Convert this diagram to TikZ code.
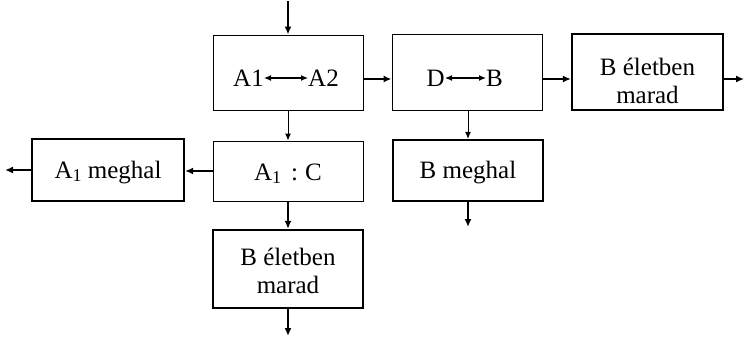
\documentclass[tikz,border=0pt]{standalone}
\usepackage{fontspec}
\setmainfont{Liberation Serif}
\usetikzlibrary{arrows.meta}
\newcommand{\subone}{\raisebox{-3pt}{\fontsize{18}{18}\selectfont 1}}
\begin{document}
\begin{tikzpicture}[x=1pt,y=-1pt,
  thinbox/.style={draw,line width=1pt,inner sep=0},
  thickbox/.style={draw,line width=2.2pt,inner sep=0},
  lbl/.style={font=\fontsize{25}{28}\selectfont,inner sep=0,align=center},
  tarr/.style={-{Latex[length=8pt,width=7pt]},line width=2pt},
  narr/.style={-{Latex[length=7pt,width=6pt]},line width=1pt},
  darr/.style={{Latex[length=7pt,width=6pt]}-{Latex[length=7pt,width=6pt]},line width=1.2pt}]
\useasboundingbox (0,0) rectangle (745,338);

% boxes
\node[thinbox,minimum width=150pt,minimum height=75pt] (A) at (288,72.5) {};
\node[thinbox,minimum width=150pt,minimum height=76pt] (D) at (467,72) {};
\node[thickbox,minimum width=151pt,minimum height=76pt] (BE1) at (647.5,72) {};
\node[thinbox,minimum width=150pt,minimum height=60pt] (AC) at (288,171) {};
\node[thickbox,minimum width=152pt,minimum height=62pt] (AM) at (108,170) {};
\node[thickbox,minimum width=150pt,minimum height=61pt] (BM) at (468,170.5) {};
\node[thickbox,minimum width=150pt,minimum height=78pt] (BE2) at (288,269) {};

% texts
\node[lbl,anchor=east] (a1) at (264,78) {A1};
\node[lbl,anchor=west] (a2) at (308,78) {A2};
\draw[darr] (a1) -- (a2);
\node[lbl,anchor=east] (d1) at (445,78) {D};
\node[lbl,anchor=west] (b1) at (486,78) {B};
\draw[darr] (d1) -- (b1);
\node[lbl] (tBE1) at (647.5,81) {B életben\\marad};
\node[lbl] (tAC) at (288,174) {A\subone\hspace{10pt}:\hspace{7pt}C};
\node[lbl] (tAM) at (108,173) {A\subone\ meghal};
\node[lbl] (tBM) at (468,173) {B meghal};
\node[lbl] (tBE2) at (288,271) {B életben\\marad};

% connectors
\coordinate (ya) at (0,79);
\coordinate (in) at (288,1);
\coordinate (outR) at (744,79);
\coordinate (outL) at (5,170);
\coordinate (outBM) at (468,227);
\coordinate (outB) at (288,336);
\draw[tarr] (in) -- (A.north);
\draw[tarr] (A.east |- ya) -- (D.west |- ya);
\draw[tarr] (D.east |- ya) -- (BE1.west |- ya);
\draw[tarr] (BE1.east |- ya) -- (outR);
\draw[narr] (A.south) -- (AC.north);
\draw[narr] (BM.north |- D.south) -- (BM.north);
\draw[tarr] (AC.west) -- (AM.east |- AC.west);
\draw[tarr] (AM.west) -- (outL);
\draw[tarr] (AC.south) -- (BE2.north);
\draw[tarr] (BE2.south) -- (outB);
\draw[tarr] (BM.south) -- (outBM);
\end{tikzpicture}
\end{document}
